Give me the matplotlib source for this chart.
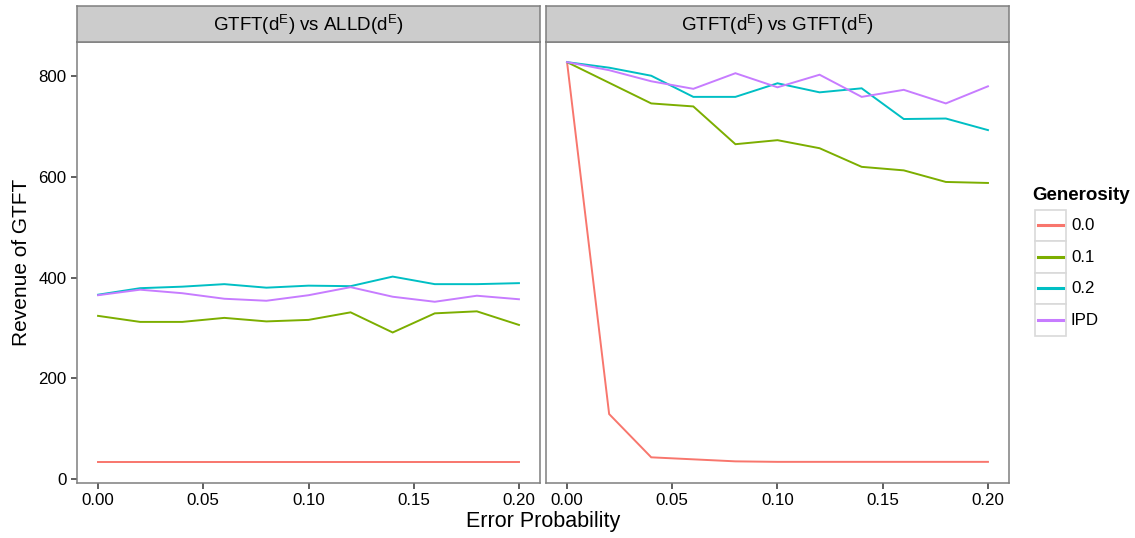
import matplotlib
matplotlib.use("Agg")
import matplotlib.pyplot as plt
from matplotlib.patches import Rectangle

plt.rcParams['font.family'] = ['Liberation Sans', 'DejaVu Sans']
plt.rcParams['mathtext.fontset'] = 'custom'
plt.rcParams['mathtext.rm'] = 'Liberation Sans'
plt.rcParams['mathtext.it'] = 'Liberation Sans:italic'

# Error probabilities on the x axis
error_prob = [0.00, 0.02, 0.04, 0.06, 0.08, 0.10, 0.12, 0.14, 0.16, 0.18, 0.20]

# Generosity levels (legend)
generosity = ['0.0', '0.1', '0.2', 'IPD']
colors = ['#F8766D', '#7CAE00', '#00BFC4', '#C77CFF']

# Panel titles
panels = [r'GTFT(d$^{\mathrm{E}}$) vs ALLD(d$^{\mathrm{E}}$)',
          r'GTFT(d$^{\mathrm{E}}$) vs GTFT(d$^{\mathrm{E}}$)']

# Revenue of GTFT against ALLD
alld_g00 = [33, 33, 33, 33, 33, 33, 33, 33, 33, 33, 33]
alld_g01 = [324, 312, 312, 320, 313, 316, 331, 291, 329, 333, 306]
alld_g02 = [366, 379, 382, 387, 380, 384, 383, 402, 387, 387, 389]
alld_ipd = [365, 376, 369, 358, 354, 365, 381, 362, 352, 364, 357]

# Revenue of GTFT against GTFT
gtft_g00 = [828, 129, 43, 39, 35, 34, 34, 34, 34, 34, 34]
gtft_g01 = [828, 787, 746, 740, 665, 673, 657, 620, 613, 590, 588]
gtft_g02 = [828, 817, 801, 759, 759, 786, 768, 776, 715, 716, 693]
gtft_ipd = [828, 812, 790, 775, 806, 778, 803, 759, 773, 746, 780]

series = [[alld_g00, alld_g01, alld_g02, alld_ipd],
          [gtft_g00, gtft_g01, gtft_g02, gtft_ipd]]

W, H = 1135, 538
fig = plt.figure(figsize=(W / 100, H / 100), dpi=100)

border = '#7F7F7F'
tick_fs = 12.2
panel_x = [77, 546]
panel_w = 463
panel_top, panel_bot = 42, 483
strip_top = 6

for i, (px, title, data) in enumerate(zip(panel_x, panels, series)):
    ax = fig.add_axes([px / W, 1 - panel_bot / H, panel_w / W, (panel_bot - panel_top) / H])
    for vals, c in zip(data, colors):
        ax.plot(error_prob, vals, color=c, lw=1.4, solid_joinstyle='miter')
    ax.set_xlim(-0.01, 0.21)
    ax.set_ylim(-8, 868)
    ax.set_xticks([0.00, 0.05, 0.10, 0.15, 0.20])
    ax.set_xticklabels(['0.00', '0.05', '0.10', '0.15', '0.20'])
    ax.set_yticks([0, 200, 400, 600, 800])
    for s in ax.spines.values():
        s.set_color(border)
        s.set_linewidth(1.1)
    ax.tick_params(direction='out', length=4.5, width=1.1, color='#333333',
                   labelsize=tick_fs, labelcolor='black', pad=3)
    if i == 0:
        ax.set_ylabel('Revenue of GTFT', fontsize=15, labelpad=5)
    else:
        ax.tick_params(axis='y', left=False, labelleft=False)

    sax = fig.add_axes([px / W, 1 - panel_top / H, panel_w / W, (panel_top - strip_top) / H])
    sax.set_facecolor('#CCCCCC')
    sax.set_xticks([])
    sax.set_yticks([])
    for s in sax.spines.values():
        s.set_color(border)
        s.set_linewidth(1.1)
    sax.text(0.5, 0.47, title, ha='center', va='center', fontsize=13.5,
             transform=sax.transAxes)

fig.text((77 + 1009) / 2 / W, 1 - 522 / H, 'Error Probability', ha='center',
         va='center', fontsize=15.5)

# Legend drawn in pixel coordinates
lax = fig.add_axes([0, 0, 1, 1], zorder=-1)
lax.set_xlim(0, W)
lax.set_ylim(H, 0)
lax.axis('off')
lax.text(1032, 195, 'Generosity', fontsize=13.5, fontweight='bold', va='center', ha='left')
key_top, key_h, key_l, key_w = 209.5, 31.5, 1035, 31
for k, (lab, c) in enumerate(zip(generosity, colors)):
    y0 = key_top + k * key_h
    lax.add_patch(Rectangle((key_l, y0), key_w, key_h, facecolor='white',
                            edgecolor='#D9D9D9', lw=1.2))
    lax.plot([key_l + 3, key_l + key_w - 3], [y0 + key_h / 2] * 2, color=c, lw=2.2)
    lax.text(key_l + key_w + 5, y0 + key_h / 2 + 0.5, lab, fontsize=tick_fs,
             va='center', ha='left')

fig.savefig('out.png', dpi=100)
